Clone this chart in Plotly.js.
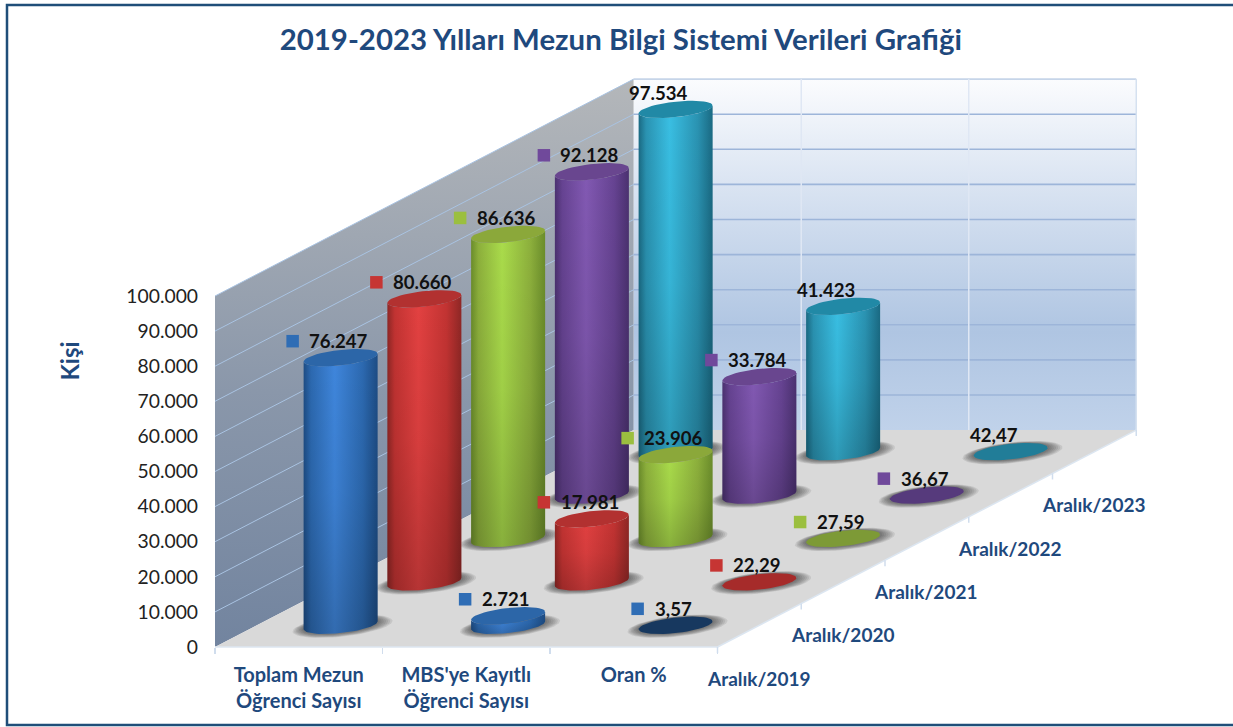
<!DOCTYPE html><html><head><meta charset="utf-8"><script src="https://cdn.plot.ly/plotly-3.0.0.min.js"></script></head><body style="margin:0;background:#fff"><div id="c" style="width:1233px;height:727px"></div><script>
const title='2019-2023 Yılları Mezun Bilgi Sistemi Verileri Grafiği';
const yTitle='Kişi';
const categories=["Toplam Mezun<br>Öğrenci Sayısı","MBS'ye Kayıtlı<br>Öğrenci Sayısı","Oran %"];
const periods=['Aralık/2019','Aralık/2020','Aralık/2021','Aralık/2022','Aralık/2023'];
const toplamMezun=[76247,80660,86636,92128,97534];
const mbsKayitli=[2721,17981,23906,33784,41423];
const oran=[3.57,22.29,27.59,36.67,42.47];
const yTicks=[0,10000,20000,30000,40000,50000,60000,70000,80000,90000,100000];
const edge=['#1d4c84','#8e2725','#6b8d2b','#4b3170','#1a6a83'];
const side=['#2c69b0','#c23332','#8db03c','#664392','#2a93b2'];
const mid=['#3f86dc','#e34141','#aadc4b','#8259b3','#39bfe3'];
const topCol=['#2c66a8','#b23130','#8ba83a','#69468f','#2189a6'];
const discCol=['#17385f','#a62b2a','#7d9a36','#563a7c','#217d98'];
const keyCol=['#2f6db5','#c63533','#9bbf3f','#70499b',null];

const PXC=167.5, PXV=351/100000, DX=0.5, DY=12360, RC=0.197, RD=0.2;
const px=(c,d)=>c+DX*d, py=(d,v)=>v+DY*d;
const traces=[];
function poly(pts,o){traces.push(Object.assign({type:'scatter',mode:'lines',x:pts.map(p=>p[0]),y:pts.map(p=>p[1]),fill:'toself',line:{width:0},hoverinfo:'skip',showlegend:false},o));}
function seg(a,b,color,width){traces.push({type:'scatter',mode:'lines',x:[a[0],b[0]],y:[a[1],b[1]],line:{color:color,width:width},hoverinfo:'skip',showlegend:false});}
const P=(c,d,v)=>[px(c,d),py(d,v)];
const grad=(type,stops)=>({type:type,colorscale:stops});

// walls + floor
poly([P(0,0,0),P(0,5,0),P(0,5,100000),P(0,0,100000)],{fillgradient:grad('vertical',[[0,'#72849f'],[0.45,'#8a97aa'],[1,'#b4b7ba']])});
poly([P(0,5,0),P(3,5,0),P(3,5,100000),P(0,5,100000)],{fillgradient:grad('vertical',[[0,'#c0d2ea'],[0.28,'#afc5e2'],[0.7,'#dae4f2'],[1,'#fbfcfe']])});
yTicks.slice(1).forEach(v=>{seg(P(0,0,v),P(0,5,v),'#a9c3e2',1);seg(P(0,5,v),P(3,5,v),v===100000?'#c6d5e9':'#9db5d9',1.6);});
[1,2].forEach(c=>seg(P(c,5,0),P(c,5,100000),'#dfe7f4',1.5));
seg(P(3,5,0),P(3,5,100000),'#d5e1f0',1.5);
poly([P(0,0,0),P(3,0,0),P(3,5,0),P(0,5,0)],{fillcolor:'#d9d9d9'});
seg(P(0,0,0),P(3,0,0),'#dce6f1',1.5);
seg(P(3,0,0),P(3,5,0),'#dce6f1',1.5);
for(let d=0;d<=5;d++){const a=P(3,d,0);seg(a,[a[0],a[1]-6/PXV],'#d0dded',1.5);}

function disc(cc,dd,v,s){const out=[];for(let i=0;i<=48;i++){const t=i/48*2*Math.PI;out.push(P(cc+s*RC*Math.cos(t),dd+s*RD*Math.sin(t),v));}return out;}
function cylinder(cc,dd,v,k,flat){
  for(let n=7;n>=1;n--)poly(disc(cc+0.003*n,dd-0.003*n,0,1+0.05*n),{fillcolor:'rgba(40,40,40,0.1)'});
  if(flat){poly(disc(cc,dd,v,1),{fillcolor:discCol[k]});return;}
  const t0=Math.atan2(DX*RD,RC),sil=[];
  for(let i=0;i<=40;i++){const t=t0-Math.PI*i/40;sil.push(P(cc+RC*Math.cos(t),dd+RD*Math.sin(t),0));}
  for(let i=40;i>=0;i--){const t=t0-Math.PI*i/40;sil.push(P(cc+RC*Math.cos(t),dd+RD*Math.sin(t),v));}
  poly(sil,{fillgradient:grad('horizontal',[[0,edge[k]],[0.1,side[k]],[0.42,mid[k]],[0.8,side[k]],[1,edge[k]]])});
  poly(sil,{fillgradient:grad('vertical',[[0,'rgba(0,0,0,0.2)'],[0.5,'rgba(0,0,0,0.06)'],[1,'rgba(0,0,0,0)']])});
  poly(disc(cc,dd,v,1),{fillcolor:topCol[k]});
}
const rows=[toplamMezun,mbsKayitli,oran];
for(let d=4;d>=0;d--)rows.forEach((r,c)=>cylinder(c+0.5,d+0.5,r[d],d,c===2));

const fmt=(v,c)=>c===2?v.toFixed(2).replace('.',','):Math.round(v).toString().replace(/\B(?=(\d{3})+$)/g,'.');
const annotations=[];
const kx=[],ky=[],kc=[];
rows.forEach((r,c)=>r.forEach((v,d)=>{
  const p=P(c+0.5,d+0.5,c===2?0:v),label=fmt(v,c),hasKey=keyCol[d]!==null;
  annotations.push({x:p[0],y:p[1],xref:'x',yref:'y',text:'<b>'+label+'</b>',showarrow:false,xshift:hasKey?-2:-17,yshift:16.5,font:{family:'Lato',size:18.6,color:'#111'}});
  if(hasKey){kx.push(p[0]-(18+5*label.length)/PXC);ky.push(p[1]+16.5/PXV);kc.push(keyCol[d]);}
}));
traces.push({type:'scatter',mode:'markers',x:kx,y:ky,marker:{symbol:'square',size:12.5,color:kc},hoverinfo:'skip',showlegend:false});
periods.forEach((t,d)=>{const p=P(3,d+0.5,0);annotations.push({x:p[0],y:p[1],xref:'x',yref:'y',text:'<b>'+t+'</b>',showarrow:false,xshift:-1,yshift:-53,font:{family:'Lato',size:19,color:'#1f497d'}});});

const layout={width:1233,height:727,margin:{l:0,r:0,t:0,b:0},paper_bgcolor:'#fff',plot_bgcolor:'#fff',separators:',.',showlegend:false,
 title:{text:'<b>'+title+'</b>',x:0.5035,xanchor:'center',y:0.946,yanchor:'middle',font:{family:'Lato',size:29.4,color:'#1f497d'}},
 xaxis:{range:[-215/PXC,(1233-215)/PXC],anchor:'free',position:80/727,showgrid:false,zeroline:false,showline:false,tickmode:'array',tickvals:[0.5,1.5,2.5],ticktext:categories.map(s=>'<b>'+s+'</b>'),ticks:'',ticklen:0,ticklabelstandoff:14,tickangle:0,tickfont:{family:'Lato',size:20,color:'#1f497d'},
   minor:{tickmode:'array',tickvals:[0,1,2,3],ticks:'outside',ticklen:6,tickcolor:'#d0dded',tickwidth:1.5,showgrid:false}},
 yaxis:{domain:[0.0069,1],range:[-(80-0.0069*727)/PXV,647/PXV],anchor:'free',position:198/1233,showgrid:false,zeroline:false,showline:false,tickmode:'array',tickvals:yTicks,tickformat:',d',ticks:'',ticklen:0,tickfont:{family:'Lato',size:19.3,color:'#222'},
   title:{text:'<b>'+yTitle+'</b>',standoff:38,font:{family:'Lato',size:24,color:'#1f497d'}}},
 annotations:annotations,
 shapes:[{type:'rect',xref:'paper',yref:'paper',x0:7/1233,x1:1240/1233,y0:2/727,y1:722/727,line:{color:'#1f4e79',width:2.5},fillcolor:'rgba(0,0,0,0)',layer:'above'}]
};
Plotly.newPlot('c',traces,layout,{displayModeBar:false,staticPlot:true});
</script></body></html>
